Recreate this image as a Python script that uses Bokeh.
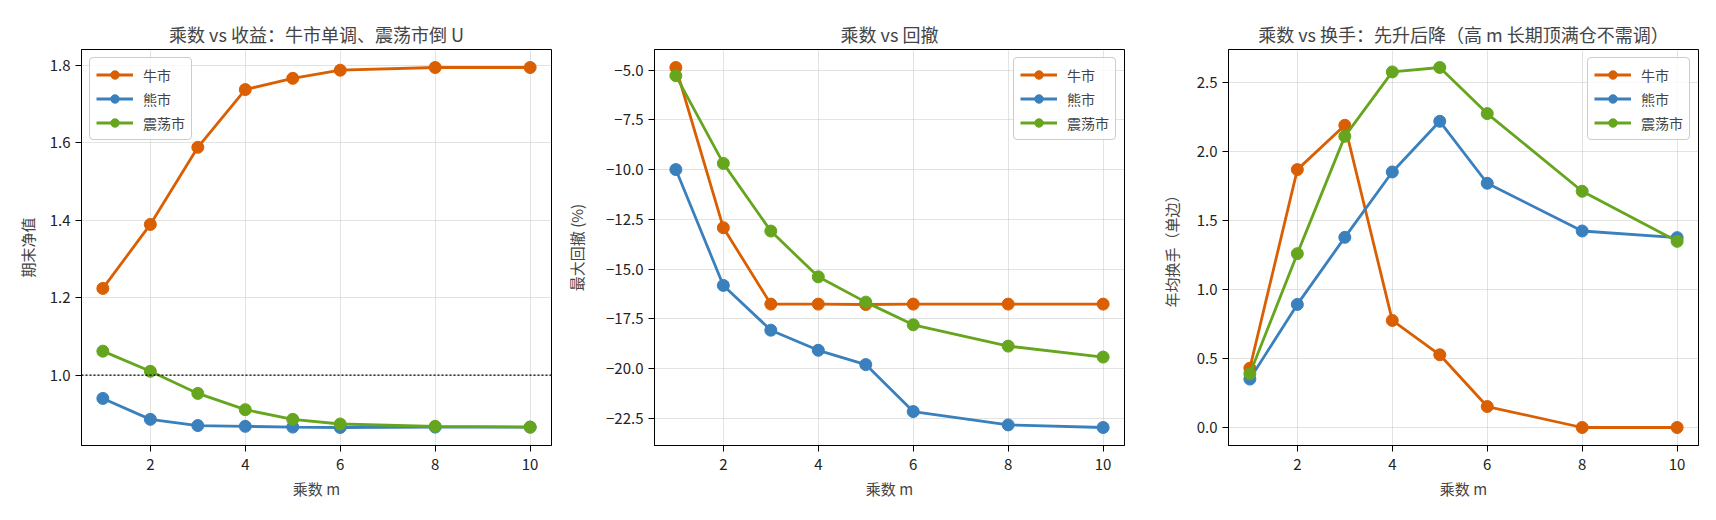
from bokeh.plotting import figure
from bokeh.layouts import row
from bokeh.models import Range1d, FixedTicker, Span
from bokeh.embed import file_html
from bokeh.resources import INLINE

FONT = "Noto Sans CJK SC"

# multiplier m
m = [1, 2, 3, 4, 5, 6, 8, 10]
markets = ["牛市", "熊市", "震荡市"]
colors = ["#d95f02", "#3a80bd", "#66a61e"]

# final NAV
nav_bull = [1.224, 1.389, 1.588, 1.737, 1.766, 1.787, 1.794, 1.794]
nav_bear = [0.940, 0.886, 0.870, 0.868, 0.866, 0.865, 0.866, 0.866]
nav_range = [1.062, 1.010, 0.953, 0.911, 0.886, 0.874, 0.868, 0.866]

# max drawdown (%)
dd_bull = [-4.87, -12.92, -16.76, -16.76, -16.78, -16.76, -16.76, -16.76]
dd_bear = [-10.0, -15.82, -18.07, -19.08, -19.80, -22.16, -22.83, -22.96]
dd_range = [-5.28, -9.69, -13.09, -15.39, -16.66, -17.80, -18.87, -19.42]

# annual turnover (one side)
to_bull = [0.430, 1.869, 2.190, 0.776, 0.527, 0.152, 0.0, 0.0]
to_bear = [0.351, 0.892, 1.378, 1.852, 2.219, 1.770, 1.424, 1.376]
to_range = [0.389, 1.260, 2.110, 2.577, 2.609, 2.275, 1.712, 1.349]

x_ticks = [2, 4, 6, 8, 10]
nav_ticks = [1.0, 1.2, 1.4, 1.6, 1.8]
nav_tick_labels = ["1.0", "1.2", "1.4", "1.6", "1.8"]
dd_ticks = [-22.5, -20.0, -17.5, -15.0, -12.5, -10.0, -7.5, -5.0]
dd_tick_labels = ["−22.5", "−20.0", "−17.5", "−15.0", "−12.5", "−10.0", "−7.5", "−5.0"]
to_ticks = [0.0, 0.5, 1.0, 1.5, 2.0, 2.5]
to_tick_labels = ["0.0", "0.5", "1.0", "1.5", "2.0", "2.5"]


def pad_range(vals, frac=0.05):
    lo, hi = min(vals), max(vals)
    d = (hi - lo) * frac
    return Range1d(lo - d, hi + d)


def panel(title, ylabel, series, yticks, ylabels, legend_loc, left, ylab_off):
    allv = [v for s in series for v in s]
    p = figure(frame_width=470, frame_height=396, output_backend="svg",
               toolbar_location=None, x_range=pad_range(m), y_range=pad_range(allv),
               min_border_left=left, min_border_right=10, min_border_top=49,
               min_border_bottom=60)
    p.title.text = title
    p.title.text_font = FONT
    p.title.text_font_size = "18px"
    p.title.text_font_style = "normal"
    p.title.align = "center"
    p.title.standoff = 6

    for s, name, c in zip(series, markets, colors):
        p.line(m, s, line_color=c, line_width=2.8, legend_label=name)
        p.scatter(m, s, size=12, fill_color=c, line_color=c, legend_label=name)

    p.xaxis.ticker = FixedTicker(ticks=x_ticks)
    p.yaxis.ticker = FixedTicker(ticks=yticks)
    p.yaxis.major_label_overrides = {t: l for t, l in zip(yticks, ylabels)}
    p.xaxis.axis_label = "乘数 m"
    p.yaxis.axis_label = ylabel
    for ax in (p.xaxis, p.yaxis):
        ax.axis_label_text_font = FONT
        ax.axis_label_text_font_size = "15px"
        ax.axis_label_text_font_style = "normal"
        ax.major_label_text_font = FONT
        ax.major_label_text_font_size = "15px"
        ax.major_label_text_color = "#222222"
        ax.axis_line_color = "black"
        ax.major_tick_line_color = "black"
        ax.major_tick_in = 0
        ax.major_tick_out = 6
        ax.minor_tick_line_color = None
        ax.major_label_standoff = 5
    p.xaxis.major_label_standoff = 7
    p.xaxis.axis_label_standoff = 5
    p.yaxis.axis_label_standoff = ylab_off

    p.grid.grid_line_color = "#b0b0b0"
    p.grid.grid_line_alpha = 0.35
    p.outline_line_color = "black"
    p.outline_line_alpha = 1

    lg = p.legend[0]
    lg.location = legend_loc
    lg.margin = 8
    lg.padding = 6
    lg.spacing = 3
    lg.label_height = 21
    lg.glyph_height = 21
    lg.glyph_width = 37
    lg.label_standoff = 10
    lg.label_text_font = FONT
    lg.label_text_font_size = "14px"
    lg.border_line_color = "#cccccc"
    lg.border_line_alpha = 1
    lg.background_fill_alpha = 0.8
    lg.border_radius = 4
    return p


p1 = panel("乘数 vs 收益：牛市单调、震荡市倒 U", "期末净值",
           [nav_bull, nav_bear, nav_range], nav_ticks, nav_tick_labels, "top_left", 81, 9)
p1.add_layout(Span(location=1.0, dimension="width", line_color="black",
                   line_width=1.2, line_dash="2 2"))
p2 = panel("乘数 vs 回撤", "最大回撤 (%)",
           [dd_bull, dd_bear, dd_range], dd_ticks, dd_tick_labels, "top_right", 93, 16)
p3 = panel("乘数 vs 换手：先升后降（高 m 长期顶满仓不需调）", "年均换手（单边）",
           [to_bull, to_bear, to_range], to_ticks, to_tick_labels, "top_right", 94, 12)

layout = row(p1, p2, p3)
open("out.html", "w").write(file_html(layout, INLINE))
